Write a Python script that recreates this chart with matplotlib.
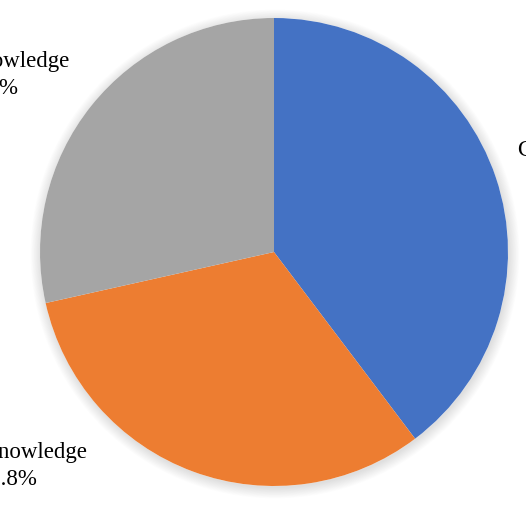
import matplotlib.pyplot as plt
from matplotlib.patches import Circle

# Data
categories = ['Content Knowledge', 'Prior Knowledge', 'Other Knowledge']
shares = [39.7, 31.8, 28.5]
colors = ['#4472C4', '#ED7D31', '#A5A5A5']

W, H = 526, 522
fig = plt.figure(figsize=(W / 100, H / 100), dpi=100)
ax = fig.add_axes([0, 0, 1, 1])
ax.set_xlim(0, W)
ax.set_ylim(0, H)
ax.set_aspect('equal')
ax.axis('off')

cx, cy, r = 274, H - 252, 234

# soft shadow round the pie
for i in range(16):
    ax.add_patch(Circle((cx + 1, cy - 2), r + i * 0.7, color='black',
                        alpha=0.009, lw=0, zorder=0))
ax.add_patch(Circle((cx, cy), r, color='white', lw=0, zorder=0.5))

ax.pie(shares, colors=colors, startangle=90, counterclock=False,
       center=(cx, cy), radius=r, frame=True,
       wedgeprops=dict(linewidth=0))
ax.set_xlim(0, W)
ax.set_ylim(0, H)
ax.axis('off')

labels = [f'{c}\n{s}%' for c, s in zip(categories, shares)]
label_pos = [(610, H - 164), (8, H - 466), (-12, H - 75)]
for lab, (x, y) in zip(labels, label_pos):
    ax.text(x, y, lab, ha='center', va='center', fontsize=16.5,
            family='Liberation Serif', color='black', linespacing=1.32,
            clip_on=False)

fig.savefig('out.png', dpi=100)
